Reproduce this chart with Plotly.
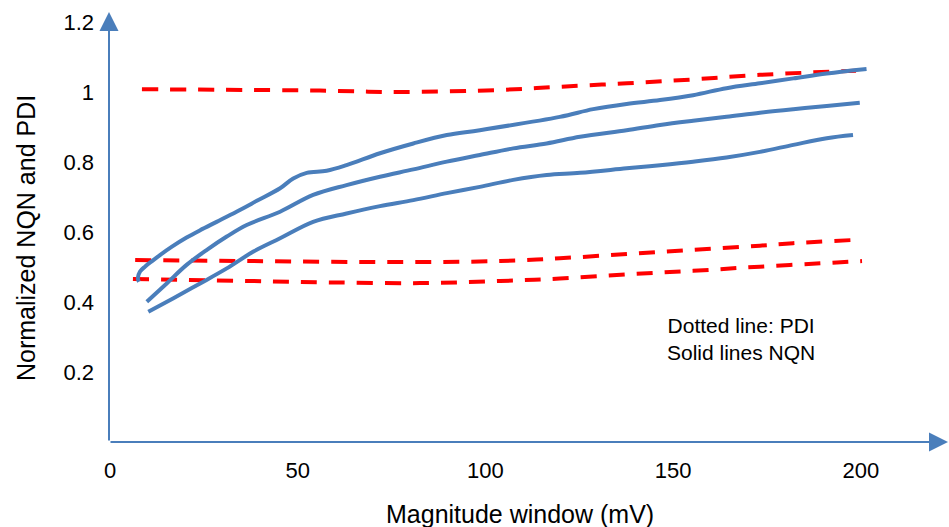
import plotly.graph_objects as go

# ---- data ----
pdi_top_x = [8.5, 55.9, 77.2, 103.9, 119.8, 137.7, 155.3, 173.1, 198.7]
pdi_top_y = [1.008, 1.004, 1.000, 1.006, 1.015, 1.025, 1.036, 1.049, 1.061]

pdi_mid_x = [6.7, 37.3, 77.2, 103.9, 119.8, 137.7, 155.3, 173.1, 181.9, 197.6]
pdi_mid_y = [0.520, 0.517, 0.514, 0.517, 0.525, 0.537, 0.549, 0.561, 0.568, 0.577]

pdi_low_x = [6.1, 37.3, 58.6, 82.6, 103.9, 119.8, 137.7, 155.3, 173.1, 193.6, 200.3]
pdi_low_y = [0.466, 0.460, 0.456, 0.454, 0.460, 0.467, 0.479, 0.489, 0.501, 0.513, 0.517]

nqn_top_x = [7.7, 7.4, 8.0, 9.3, 11.2, 13.3, 16.5, 20.4, 24.0, 28.4, 33.7, 39.1, 45.3,
             48.8, 52.4, 57.7, 63.0, 71.9, 80.8, 89.7, 98.5, 119.8, 128.7, 137.6,
             146.5, 155.3, 164.2, 173.1, 182.0, 190.9, 201.5]
nqn_top_y = [0.458, 0.468, 0.487, 0.501, 0.517, 0.534, 0.558, 0.584, 0.605, 0.629, 0.658,
             0.689, 0.725, 0.753, 0.769, 0.775, 0.791, 0.825, 0.853, 0.877, 0.891, 0.929,
             0.951, 0.966, 0.977, 0.991, 1.011, 1.025, 1.039, 1.053, 1.066]

nqn_mid_x = [9.8, 15.1, 20.4, 25.8, 31.1, 36.4, 45.3, 54.1, 63.0, 71.9, 80.8, 89.7, 98.5,
             107.4, 116.3, 125.2, 137.6, 146.5, 155.3, 164.2, 173.1, 182.0, 190.9, 199.7]
nqn_mid_y = [0.401, 0.453, 0.506, 0.549, 0.587, 0.620, 0.658, 0.706, 0.734, 0.758, 0.779,
             0.801, 0.820, 0.839, 0.853, 0.872, 0.891, 0.906, 0.918, 0.929, 0.941, 0.951,
             0.960, 0.969]

nqn_low_x = [10.2, 16.9, 24.0, 31.1, 38.2, 45.3, 54.1, 63.0, 71.9, 80.8, 89.7, 98.5, 107.4,
             116.3, 125.2, 137.6, 146.5, 155.3, 164.2, 173.1, 182.0, 190.9, 197.9]
nqn_low_y = [0.372, 0.411, 0.453, 0.496, 0.544, 0.582, 0.629, 0.653, 0.674, 0.691, 0.711,
             0.729, 0.749, 0.763, 0.769, 0.782, 0.791, 0.801, 0.813, 0.829, 0.849, 0.868,
             0.877]

x_ticks = [0, 50, 100, 150, 200]
y_ticks = [0.2, 0.4, 0.6, 0.8, 1.0, 1.2]
y_tick_text = ["0.2", "0.4", "0.6", "0.8", "1", "1.2"]

x_title = "Magnitude window (mV)"
y_title = "Normalized NQN and PDI"
note_lines = ["Dotted line: PDI", "Solid lines NQN"]

# ---- styles ----
BLUE = "#4a7ebb"
RED = "#ff0000"
FONT = "Liberation Sans, Arial, sans-serif"

fig = go.Figure()

for xs, ys in [(pdi_top_x, pdi_top_y), (pdi_mid_x, pdi_mid_y), (pdi_low_x, pdi_low_y)]:
    fig.add_trace(go.Scatter(x=xs, y=ys, mode="lines",
                             line=dict(color=RED, width=4, dash="16px,12px", shape="spline", smoothing=1.0),
                             showlegend=False, hoverinfo="skip"))

for xs, ys in [(nqn_top_x, nqn_top_y), (nqn_mid_x, nqn_mid_y), (nqn_low_x, nqn_low_y)]:
    fig.add_trace(go.Scatter(x=xs, y=ys, mode="lines",
                             line=dict(color=BLUE, width=4, shape="spline", smoothing=1.0),
                             showlegend=False, hoverinfo="skip"))

X0, X1 = -0.27, 223.2
Y0, Y1 = 0.0, 1.2286

fig.update_layout(
    width=949, height=527,
    margin=dict(l=109, r=1, t=12, b=85, autoexpand=False),
    paper_bgcolor="white", plot_bgcolor="white",
    font=dict(family=FONT, size=22, color="black"),
    xaxis=dict(range=[X0, X1], showgrid=False, zeroline=False, showline=False,
               tickvals=x_ticks, ticks="", ticklabelstandoff=13,
               tickfont=dict(size=22, family=FONT)),
    yaxis=dict(range=[Y0, Y1], showgrid=False, zeroline=False, showline=False,
               tickvals=y_ticks, ticktext=y_tick_text, ticks="", ticklabelstandoff=14,
               tickfont=dict(size=22, family=FONT)),
)

# axis lines with arrowheads
fig.add_annotation(x=X1, y=0, xref="x", yref="y", ax=X0, ay=0, axref="x", ayref="y",
                   text="", showarrow=True, arrowhead=2, arrowsize=1.9, arrowwidth=2,
                   arrowcolor=BLUE, standoff=0)
fig.add_annotation(x=X0, y=Y1, xref="x", yref="y", ax=X0, ay=0, axref="x", ayref="y",
                   text="", showarrow=True, arrowhead=2, arrowsize=1.9, arrowwidth=2,
                   arrowcolor=BLUE, standoff=0)

# axis titles
fig.add_annotation(text=x_title, xref="paper", yref="paper", x=(520 - 109) / 839,
                   y=-(514 - 442) / 430, xanchor="center", yanchor="middle",
                   showarrow=False, font=dict(size=25, family=FONT))
fig.add_annotation(text=y_title, xref="paper", yref="paper", x=-(109 - 26) / 839,
                   y=(442 - 238) / 430, xanchor="center", yanchor="middle", textangle=-90,
                   showarrow=False, font=dict(size=25, family=FONT))

# note
fig.add_annotation(text="<br>".join(note_lines), xref="paper", yref="paper",
                   x=(741 - 109) / 839, y=(442 - 339) / 430, xanchor="center", yanchor="middle",
                   align="center", showarrow=False, font=dict(size=21, family=FONT))

fig.write_html("out.html", config={"displayModeBar": False},
               post_script="document.body.style.margin='0';")
